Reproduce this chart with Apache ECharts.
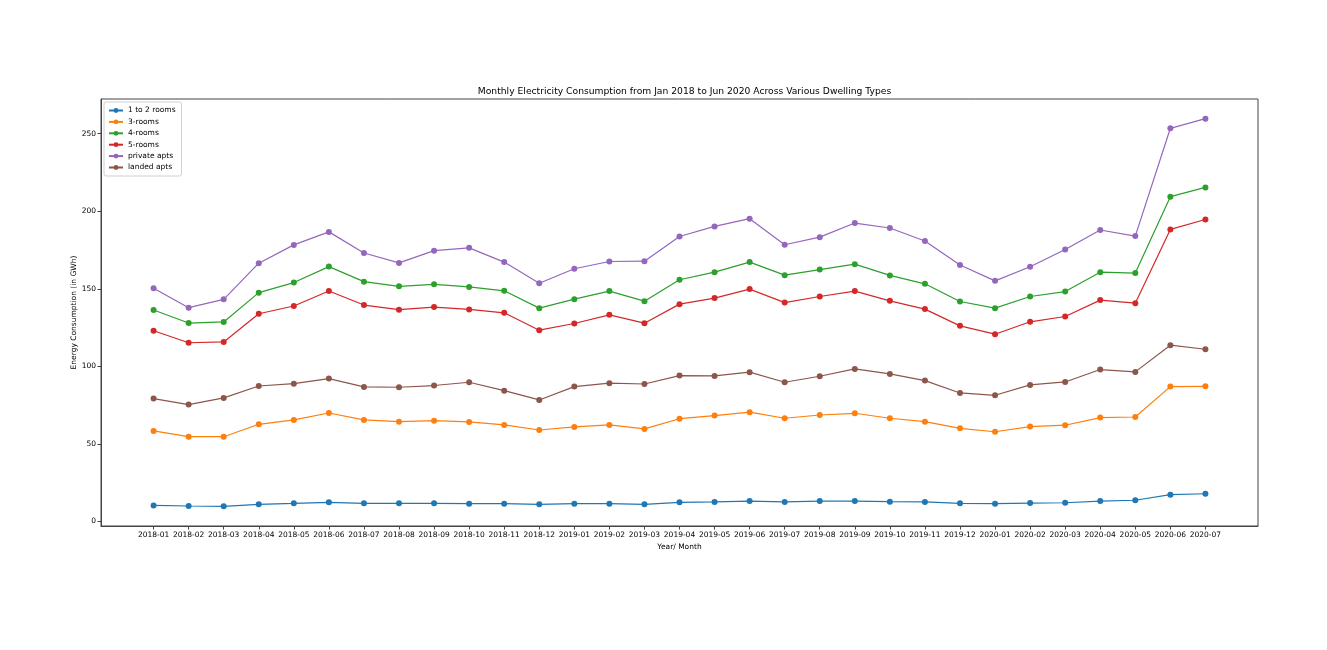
<!DOCTYPE html>
<html>
<head>
<meta charset="utf-8">
<script src="https://cdn.jsdelivr.net/npm/echarts@6/dist/echarts.min.js"></script>
<style>
html,body{margin:0;padding:0;background:#fff;}
#chart{width:1327px;height:650px;}
</style>
</head>
<body>
<div id="chart"></div>
<script>
const months = ["2018-01","2018-02","2018-03","2018-04","2018-05","2018-06","2018-07","2018-08","2018-09","2018-10","2018-11","2018-12",
"2019-01","2019-02","2019-03","2019-04","2019-05","2019-06","2019-07","2019-08","2019-09","2019-10","2019-11","2019-12",
"2020-01","2020-02","2020-03","2020-04","2020-05","2020-06","2020-07"];
const yTicks = [0, 50, 100, 150, 200, 250];

const rooms1to2 = [10.3,9.9,9.7,11.0,11.6,12.3,11.6,11.6,11.6,11.4,11.4,11.0,11.4,11.4,11.0,12.3,12.5,13.1,12.5,13.1,13.1,12.7,12.5,11.6,11.4,11.8,12.0,13.1,13.6,17.2,17.8];
const rooms3 = [58.3,54.6,54.6,62.6,65.4,69.9,65.4,64.3,64.9,64.1,62.2,58.9,60.9,62.2,59.6,66.2,68.2,70.4,66.5,68.6,69.7,66.5,64.3,60.0,57.8,61.1,62.0,66.9,67.3,86.9,87.1];
const rooms4 = [136.3,127.9,128.6,147.5,154.0,164.3,154.6,151.6,152.9,151.2,148.7,137.5,143.3,148.5,142.0,155.8,160.7,167.2,158.8,162.4,165.9,158.6,153.2,141.8,137.5,145.0,148.2,160.7,160.1,209.4,215.4];
const rooms5 = [122.9,115.2,115.7,133.9,138.9,148.6,139.5,136.5,138.2,136.7,134.5,123.3,127.6,133.2,127.8,140.1,144.0,149.8,141.1,145.0,148.5,142.2,136.9,126.1,120.7,128.7,132.1,142.7,140.7,188.3,194.7];
const privateApts = [150.3,137.8,143.2,166.5,178.3,186.7,173.1,166.7,174.6,176.4,167.2,153.6,162.9,167.6,167.8,183.7,190.2,195.2,178.4,183.3,192.4,189.2,180.8,165.3,155.1,164.2,175.3,187.9,184.0,253.5,259.7];
const landedApts = [79.2,75.3,79.6,87.3,88.8,92.1,86.7,86.5,87.6,89.7,84.3,78.3,86.9,89.1,88.6,94.0,93.8,96.2,89.7,93.6,98.3,95.1,90.8,82.8,81.3,88.0,89.9,97.9,96.4,113.6,111.0];

const seriesDefs = [
  {name: "1 to 2 rooms", data: rooms1to2, color: "#1f77b4"},
  {name: "3-rooms", data: rooms3, color: "#ff7f0e"},
  {name: "4-rooms", data: rooms4, color: "#2ca02c"},
  {name: "5-rooms", data: rooms5, color: "#d62728"},
  {name: "private apts", data: privateApts, color: "#9467bd"},
  {name: "landed apts", data: landedApts, color: "#8c564b"}
];

const font = "DejaVu Sans";
const chart = echarts.init(document.getElementById("chart"), null, {renderer: "canvas"});
const xIdx = months.map((m, i) => i);

chart.setOption({
  animation: false,
  backgroundColor: "#fff",
  title: {
    text: "Monthly Electricity Consumption from Jan 2018 to Jun 2020 Across Various Dwelling Types",
    left: 679.5, top: 82, textAlign: "center",
    textStyle: {fontFamily: font, fontSize: 9.2, fontWeight: "normal", color: "#000"}
  },
  legend: {
    orient: "vertical", left: 104, top: 102,
    padding: [4, 6, 4, 4],
    itemWidth: 14, itemHeight: 6, itemGap: 2.4,
    borderColor: "#d0d0d0", borderWidth: 1, borderRadius: 2,
    backgroundColor: "rgba(255,255,255,0.8)",
    textStyle: {fontFamily: font, fontSize: 7.5, color: "#000", lineHeight: 9},
    data: seriesDefs.map(s => s.name)
  },
  grid: {
    left: 101, right: 69, top: 99, bottom: 124,
    show: true, borderColor: "#444", borderWidth: 1, backgroundColor: "transparent"
  },
  xAxis: {
    type: "value", min: -1.5, max: 31.5,
    name: "Year/ Month", nameLocation: "middle", nameGap: 17, nameMoveOverlap: false,
    nameTextStyle: {fontFamily: font, fontSize: 7.5, color: "#000"},
    axisLine: {show: true, onZero: false, lineStyle: {color: "#444", width: 1}},
    axisTick: {show: true, length: 3.5, lineStyle: {color: "#444"}, customValues: xIdx},
    axisLabel: {fontFamily: font, fontSize: 7.5, color: "#000", margin: 5,
      customValues: xIdx, formatter: v => months[Math.round(v)] || ""},
    splitLine: {show: false}
  },
  yAxis: {
    type: "value", min: -3, max: 272.4,
    name: "Energy Consumption (in GWh)", nameLocation: "middle", nameGap: 23, nameMoveOverlap: false,
    nameTextStyle: {fontFamily: font, fontSize: 7.5, color: "#000"},
    axisLine: {show: true, onZero: false, lineStyle: {color: "#444", width: 1}},
    axisTick: {show: true, length: 3.5, lineStyle: {color: "#444"}, customValues: yTicks},
    axisLabel: {fontFamily: font, fontSize: 7.5, color: "#000", margin: 5, customValues: yTicks},
    splitLine: {show: false}
  },
  series: seriesDefs.map(s => ({
    name: s.name, type: "line",
    data: s.data.map((v, i) => [i, v]),
    symbol: "circle", symbolSize: 6,
    lineStyle: {color: s.color, width: 1.2},
    itemStyle: {color: s.color},
    emphasis: {disabled: true}
  }))
});
</script>
</body>
</html>
